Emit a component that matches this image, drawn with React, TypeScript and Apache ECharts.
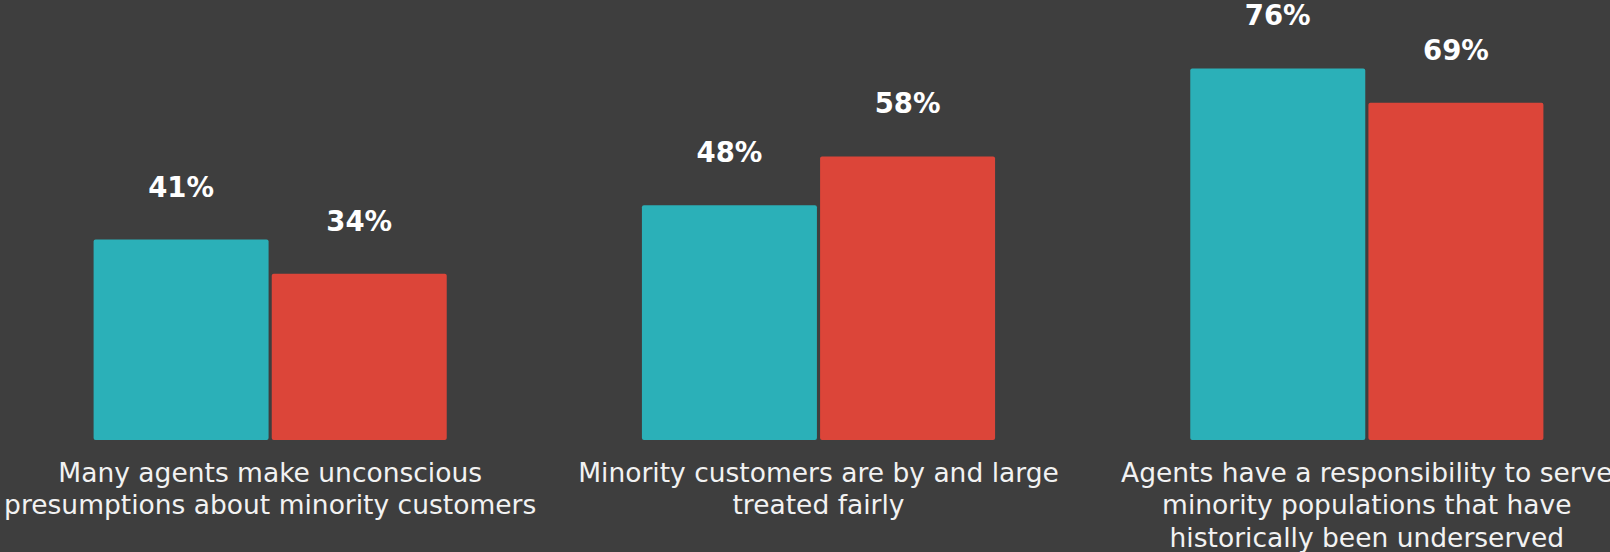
import React, { useEffect, useRef } from "react";
import * as echarts from "echarts";

const categories = [
  "Many agents make unconscious\npresumptions about minority customers",
  "Minority customers are by and large\ntreated fairly",
  "Agents have a responsibility to serve\nminority populations that have\nhistorically been underserved",
];
const seriesA = [41, 48, 76];
const seriesB = [34, 58, 69];

export default function App() {
  const ref = useRef<HTMLDivElement>(null);
  useEffect(() => {
    if (!ref.current) return;
    const chart = echarts.init(ref.current, null, { renderer: "svg" });
    const label = {
      show: true,
      position: "top",
      distance: 39,
      formatter: "{c}%",
      color: "#ffffff",
      fontFamily: "DejaVu Sans",
      fontWeight: "bold",
      fontSize: 27.5,
    };
    chart.setOption({
      animation: false,
      backgroundColor: "#3e3e3e",
      grid: {
        left: -4,
        width: 1645,
        top: 0,
        bottom: 112,
        containLabel: false,
        outerBoundsMode: "none",
      },
      xAxis: {
        type: "category",
        data: categories,
        axisLine: { show: false },
        axisTick: { show: false },
        axisLabel: {
          interval: 0,
          color: "#f2f2f2",
          fontFamily: "DejaVu Sans",
          fontSize: 26.5,
          lineHeight: 32.5,
          margin: 16,
        },
      },
      yAxis: {
        type: "value",
        min: 0,
        max: 90,
        show: false,
        splitLine: { show: false },
      },
      series: [
        {
          type: "bar",
          data: seriesA,
          barWidth: 175,
          barGap: "1.8%",
          itemStyle: { color: "#2bb0b8", borderRadius: 2 },
          label,
        },
        {
          type: "bar",
          data: seriesB,
          barWidth: 175,
          itemStyle: { color: "#dc4539", borderRadius: 2 },
          label,
        },
      ],
    });
    return () => chart.dispose();
  }, []);
  return (
    <div
      ref={ref}
      style={{ position: "fixed", left: 0, top: 0, width: 1610, height: 552 }}
    />
  );
}
